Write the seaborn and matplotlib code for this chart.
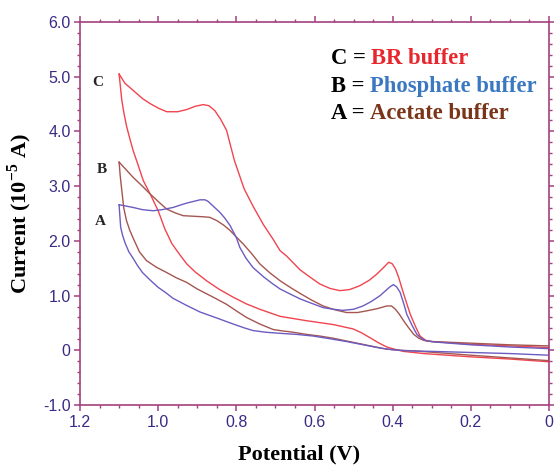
import pandas as pd
import seaborn as sns
import matplotlib
matplotlib.use("Agg")
import matplotlib.pyplot as plt
import matplotlib.ticker as tkr

# cyclic voltammograms (potential in V, current in 1e-5 A)
# each loop: upper sweep 1.1 -> 0 V, then lower sweep 0 -> 1.1 V
br_potential = [1.100, 1.085, 1.064, 1.040, 1.021, 0.998, 0.978, 0.950, 0.927, 0.905,
                0.885, 0.870, 0.855, 0.840, 0.825, 0.805, 0.780, 0.757, 0.731, 0.706,
                0.688, 0.671, 0.637, 0.610, 0.586, 0.560, 0.535, 0.510, 0.484, 0.460,
                0.441, 0.425, 0.410, 0.401, 0.393, 0.385, 0.377, 0.366, 0.355, 0.342,
                0.330, 0.315, 0.300, 0.200, 0.100, 0.000,
                0.000, 0.100, 0.200, 0.320, 0.373, 0.395, 0.415, 0.437, 0.458, 0.480,
                0.501, 0.552, 0.620, 0.688, 0.740, 0.775, 0.808, 0.845, 0.876, 0.905,
                0.927, 0.945, 0.965, 0.983, 1.000, 1.020, 1.038, 1.052, 1.064, 1.073,
                1.081, 1.088, 1.093, 1.100]
br_current = [5.05, 4.88, 4.75, 4.60, 4.51, 4.42, 4.36, 4.36, 4.40, 4.46,
              4.49, 4.47, 4.38, 4.22, 4.02, 3.47, 2.95, 2.63, 2.30, 2.03,
              1.82, 1.72, 1.47, 1.33, 1.21, 1.13, 1.09, 1.11, 1.18, 1.28,
              1.39, 1.50, 1.61, 1.58, 1.49, 1.34, 1.15, 0.90, 0.66, 0.44,
              0.26, 0.18, 0.16, 0.11, 0.08, 0.05,
              -0.21, -0.16, -0.12, -0.06, -0.02, 0.02, 0.06, 0.14, 0.23, 0.32,
              0.39, 0.47, 0.54, 0.62, 0.75, 0.85, 0.97, 1.12, 1.27, 1.43,
              1.58, 1.75, 1.95, 2.22, 2.55, 2.85, 3.10, 3.40, 3.65, 3.88,
              4.10, 4.35, 4.57, 5.05]

phos_potential = [1.100, 1.085, 1.064, 1.040, 1.013, 0.990, 0.962, 0.945, 0.927, 0.910,
                  0.893, 0.880, 0.872, 0.860, 0.842, 0.830, 0.816, 0.800, 0.791, 0.775,
                  0.757, 0.730, 0.706, 0.688, 0.660, 0.637, 0.608, 0.578, 0.552, 0.527,
                  0.500, 0.476, 0.455, 0.432, 0.418, 0.407, 0.398, 0.390, 0.381, 0.372,
                  0.364, 0.350, 0.338, 0.325, 0.313, 0.290, 0.200, 0.100, 0.000,
                  0.000, 0.100, 0.200, 0.300, 0.364, 0.400, 0.432, 0.475, 0.518, 0.560,
                  0.603, 0.645, 0.688, 0.725, 0.757, 0.780, 0.808, 0.850, 0.893, 0.930,
                  0.962, 0.980, 1.000, 1.020, 1.040, 1.053, 1.064, 1.075, 1.084, 1.091,
                  1.096, 1.100]
phos_current = [2.66, 2.64, 2.61, 2.57, 2.55, 2.57, 2.61, 2.65, 2.69, 2.72,
                2.75, 2.75, 2.72, 2.64, 2.52, 2.42, 2.28, 2.06, 1.88, 1.68,
                1.51, 1.34, 1.21, 1.12, 1.02, 0.94, 0.86, 0.78, 0.75, 0.73,
                0.75, 0.81, 0.89, 1.00, 1.09, 1.16, 1.20, 1.16, 1.06, 0.86,
                0.66, 0.45, 0.29, 0.21, 0.17, 0.15, 0.10, 0.06, 0.03,
                -0.09, -0.06, -0.04, -0.02, -0.01, 0.01, 0.04, 0.10, 0.16, 0.21,
                0.26, 0.29, 0.31, 0.33, 0.36, 0.41, 0.48, 0.59, 0.70, 0.83,
                0.95, 1.05, 1.15, 1.28, 1.42, 1.55, 1.68, 1.80, 1.95, 2.10,
                2.25, 2.66]

acet_potential = [1.100, 1.082, 1.064, 1.042, 1.021, 1.000, 0.978, 0.956, 0.936, 0.910,
                  0.885, 0.868, 0.850, 0.833, 0.816, 0.800, 0.782, 0.760, 0.740, 0.715,
                  0.688, 0.660, 0.637, 0.608, 0.578, 0.548, 0.518, 0.490, 0.467, 0.440,
                  0.415, 0.403, 0.393, 0.383, 0.372, 0.359, 0.346, 0.333, 0.320, 0.300,
                  0.200, 0.100, 0.000,
                  0.000, 0.100, 0.200, 0.346, 0.380, 0.415, 0.450, 0.484, 0.518, 0.552,
                  0.586, 0.620, 0.655, 0.688, 0.706, 0.740, 0.774, 0.800, 0.825, 0.859,
                  0.900, 0.927, 0.955, 0.978, 1.005, 1.030, 1.048, 1.064, 1.073, 1.081,
                  1.088, 1.093, 1.097, 1.100]
acet_current = [3.44, 3.30, 3.16, 3.01, 2.86, 2.72, 2.58, 2.51, 2.46, 2.45,
                2.44, 2.43, 2.37, 2.29, 2.19, 2.07, 1.94, 1.76, 1.58, 1.42,
                1.27, 1.14, 1.04, 0.92, 0.81, 0.74, 0.69, 0.69, 0.72, 0.76,
                0.81, 0.81, 0.75, 0.66, 0.54, 0.41, 0.29, 0.22, 0.18, 0.16,
                0.13, 0.10, 0.08,
                -0.19, -0.14, -0.09, -0.01, 0.00, 0.02, 0.07, 0.12, 0.17, 0.22,
                0.26, 0.29, 0.33, 0.36, 0.38, 0.48, 0.60, 0.72, 0.84, 0.97,
                1.12, 1.24, 1.33, 1.42, 1.52, 1.64, 1.80, 2.05, 2.20, 2.37,
                2.60, 2.92, 3.18, 3.44]

x_ticks = [1.2, 1.0, 0.8, 0.6, 0.4, 0.2, 0.0]
y_ticks = [-1.0, 0.0, 1.0, 2.0, 3.0, 4.0, 5.0, 6.0]

palette = {"C": "#f0454f", "B": "#a55650", "A": "#6c5cc2"}
spine_col = "#a3407d"
tick_col = "#3b2a85"


def main():
    sns.set_style("ticks")
    plt.rcParams["font.family"] = ["Liberation Sans", "DejaVu Sans"]
    plt.rcParams["mathtext.fontset"] = "custom"
    plt.rcParams["mathtext.rm"] = "Liberation Serif:bold"
    plt.rcParams["mathtext.bf"] = "Liberation Serif:bold"

    frames = []
    for name, v, i in [("C", br_potential, br_current),
                       ("B", acet_potential, acet_current),
                       ("A", phos_potential, phos_current)]:
        frames.append(pd.DataFrame({"potential": v, "current": i, "curve": name}))
    df = pd.concat(frames, ignore_index=True)

    fig = plt.figure(figsize=(5.54, 4.65), dpi=100)
    ax = fig.add_axes([80 / 554, 60 / 465, 469 / 554, 383 / 465])

    sns.lineplot(data=df, x="potential", y="current", hue="curve", palette=palette,
                 sort=False, estimator=None, lw=1.0, legend=False, ax=ax)

    ax.set_xlim(1.2, 0.0)
    ax.set_ylim(-1.0, 6.0)
    ax.set_xticks(x_ticks)
    ax.set_yticks(y_ticks)
    fmt = tkr.FuncFormatter(lambda v, p: "0" if abs(v) < 1e-9 else "{:.1f}".format(v))
    ax.xaxis.set_major_formatter(fmt)
    ax.yaxis.set_major_formatter(fmt)
    ax.xaxis.set_minor_locator(tkr.MultipleLocator(0.05))
    ax.yaxis.set_minor_locator(tkr.MultipleLocator(0.2))

    for s in ax.spines.values():
        s.set_visible(True)
        s.set_color(spine_col)
        s.set_linewidth(1.2)
    ax.tick_params(which="both", direction="out", top=True, right=True,
                   color=spine_col, width=1.1, labelcolor=tick_col, labelsize=11.5)
    ax.tick_params(which="major", length=4.5)
    ax.tick_params(which="minor", length=2.5, width=1.0)
    ax.tick_params(axis="x", which="major", pad=3.0)
    ax.tick_params(axis="y", which="major", pad=2.2)

    serif = dict(family=["Liberation Serif", "DejaVu Serif"], weight="bold")
    ax.set_xlabel("Potential (V)", fontsize=16, color="black", **serif)
    ax.set_ylabel("Current (10$^{-5}$ A)", fontsize=16, color="black", **serif)
    ax.xaxis.set_label_coords(0.468, -0.104)
    ax.yaxis.set_label_coords(-0.098, 0.5)

    # curve letters
    ax.text(1.154, 4.90, "C", fontsize=11, ha="center", va="center", **serif)
    ax.text(1.144, 3.31, "B", fontsize=11, ha="center", va="center", **serif)
    ax.text(1.149, 2.35, "A", fontsize=11, ha="center", va="center", **serif)

    # legend written as text
    entries = [("C = ", "BR buffer", "#e8262d"),
               ("B = ", "Phosphate buffer", "#3a78c0"),
               ("A = ", "Acetate buffer", "#7a3519")]
    for k, (lead, name, col) in enumerate(entries):
        t = ax.text(0.535, 0.877 - k * 0.072, lead, transform=ax.transAxes,
                    fontsize=16.3, ha="left", va="bottom", color="black", **serif)
        ax.annotate(name, xy=(1, 0), xycoords=t, fontsize=16.3, ha="left",
                    va="bottom", color=col, **serif)

    fig.savefig("out.png", dpi=100, facecolor="white")


if __name__ == "__main__":
    main()
